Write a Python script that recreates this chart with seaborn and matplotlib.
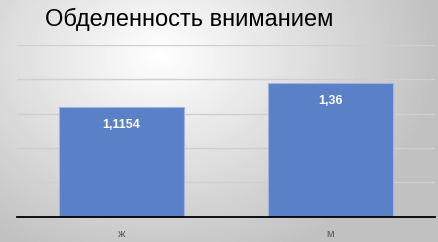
import numpy as np
import pandas as pd
import seaborn as sns
import matplotlib.pyplot as plt

categories = ["ж", "м"]
values = [1.1154, 1.36]
value_labels = ["1,1154", "1,36"]
title = "Обделенность вниманием"

sns.set_theme(style="white")
plt.rcParams['font.family'] = ['Liberation Sans', 'DejaVu Sans']

fig = plt.figure(figsize=(4.38, 2.42), dpi=100)

# radial grey gradient background
bg = fig.add_axes([0, 0, 1, 1], zorder=-10)
yy, xx = np.mgrid[0:242, 0:438]
r = np.sqrt(((xx - 160) / 320.0) ** 2 + ((yy - 55) / 250.0) ** 2)
shade = np.clip(1.0 - 0.28 * r, 0.76, 1.0)
bg.imshow(shade, cmap="gray", vmin=0, vmax=1, aspect="auto", interpolation="bilinear")
bg.set_axis_off()

ax = fig.add_axes([17 / 438, 25.3 / 242, 418 / 438, 171.7 / 242])
ax.patch.set_alpha(0)

df = pd.DataFrame({"cat": categories, "val": values})
sns.barplot(data=df, x="cat", y="val", color="#5a80c8", saturation=1, width=0.6,
            edgecolor="#9db5e0", linewidth=0.8, ax=ax)

ax.set_ylim(0, 1.75)
ax.set_yticks(np.arange(0, 1.76, 0.35))
ax.set_yticklabels([])
ax.grid(axis="y", color="#cfcfcf", linewidth=1.0)
ax.set_axisbelow(True)
for s in ["top", "right", "left"]:
    ax.spines[s].set_visible(False)
ax.spines["bottom"].set_color("black")
ax.spines["bottom"].set_linewidth(1.3)
ax.tick_params(axis="both", length=0, pad=9)
ax.tick_params(axis="x", labelsize=8, labelcolor="#595959")
ax.set_xlabel("")
ax.set_ylabel("")

for i, (v, lab) in enumerate(zip(values, value_labels)):
    ax.annotate(lab, (i, v), xytext=(0, -13), textcoords="offset points",
                ha="center", va="center", color="white", fontsize=9, fontweight="bold")

fig.text(45 / 438, 1 - 19 / 242, title, fontsize=17, color="black", ha="left", va="center")

fig.savefig("out.png", dpi=100)
